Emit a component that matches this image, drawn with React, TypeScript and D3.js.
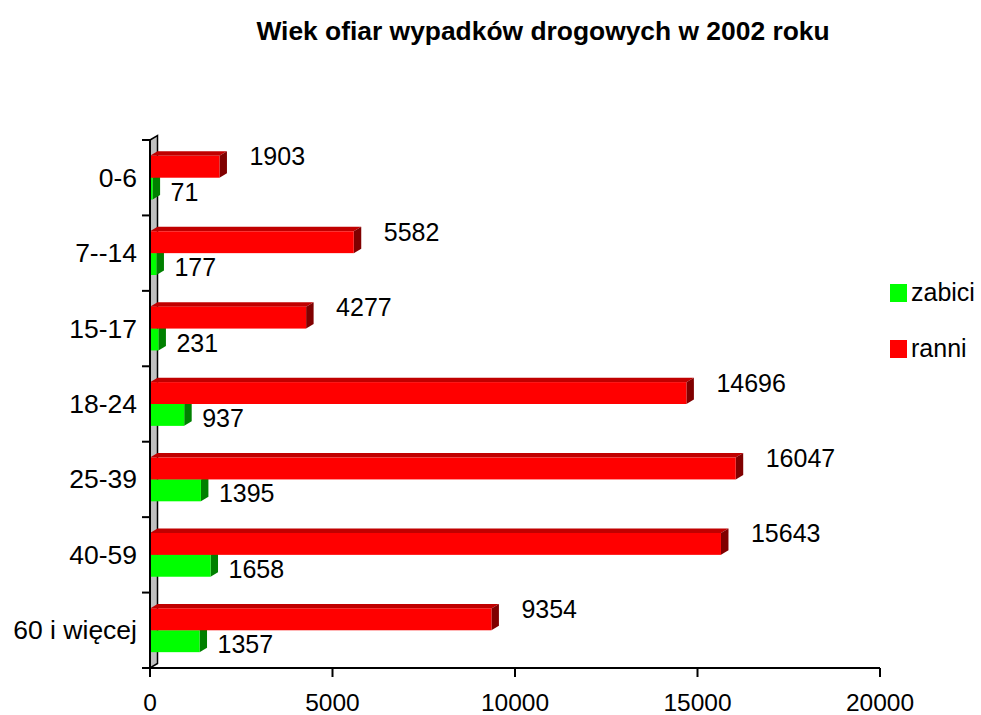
import { useEffect } from "react"
import * as d3 from "d3"

const categories = ["0-6", "7--14", "15-17", "18-24", "25-39", "40-59", "60 i więcej"]
const ranni = [1903, 5582, 4277, 14696, 16047, 15643, 9354]
const zabici = [71, 177, 231, 937, 1395, 1658, 1357]
const xTicks = [0, 5000, 10000, 15000, 20000]
const seriesNames = ["ranni", "zabici"]

const W = 981
const H = 715
const FONT = "'Liberation Sans', Arial, sans-serif"

// 3D depth offsets
const DX = 7.5
const DY = 4.5

const palette: Record<string, { front: string; top: string; side: string }> = {
  ranni: { front: "#ff0000", top: "#c00000", side: "#800000" },
  zabici: { front: "#00ff00", top: "#00c000", side: "#008000" },
}

const x = d3.scaleLinear().domain([0, 20000]).range([150, 880])
const y = d3.scaleBand<string>().domain(categories).range([140, 668]).paddingInner(0.42).paddingOuter(0.21)
const sub = d3.scaleBand<string>().domain(seriesNames).range([0, y.bandwidth()])

function Bar3D({ cat, series, value }: { cat: string; series: string; value: number }) {
  const x0 = x(0)
  const x1 = x(value)
  const top = (y(cat) ?? 0) + (sub(series) ?? 0)
  const bottom = top + sub.bandwidth()
  const c = palette[series]
  const pts = (p: number[][]) => p.map((d) => d.join(",")).join(" ")
  return (
    <g>
      <polygon points={pts([[x0, top], [x0 + DX, top - DY], [x1 + DX, top - DY], [x1, top]])} fill={c.top} />
      <polygon points={pts([[x1, top], [x1 + DX, top - DY], [x1 + DX, bottom - DY], [x1, bottom]])} fill={c.side} />
      <rect x={x0} y={top} width={x1 - x0} height={bottom - top} fill={c.front} />
    </g>
  )
}

export default function App() {
  useEffect(() => {
    document.body.style.margin = "0"
  }, [])

  const yTop = 140
  const yBottom = 668
  const boundaries = [...categories.map((d) => y(d)! - (y.step() * y.paddingInner()) / 2), yBottom]

  return (
    <svg width={W} height={H} style={{ display: "block", background: "#fff", fontFamily: FONT }}>
      {/* title */}
      <text x={543} y={40} textAnchor="middle" fontSize={26.4} fontWeight="bold" fill="#000">
        Wiek ofiar wypadków drogowych w 2002 roku
      </text>

      {/* wall */}
      <polygon
        points={`150,${yTop} ${150 + DX},${yTop - DY} ${150 + DX},${yBottom - DY} 150,${yBottom}`}
        fill="#c0c0c0"
        stroke="#000"
        strokeWidth={1.5}
      />

      {/* bars: green first so red covers its top face */}
      {categories.map((cat, i) => (
        <g key={cat}>
          <Bar3D cat={cat} series="zabici" value={zabici[i]} />
          <Bar3D cat={cat} series="ranni" value={ranni[i]} />
        </g>
      ))}

      {/* value labels */}
      {categories.map((cat, i) => {
        const rTop = (y(cat) ?? 0) + (sub("ranni") ?? 0)
        const gTop = (y(cat) ?? 0) + (sub("zabici") ?? 0)
        return (
          <g key={cat} fontSize={25} fill="#000">
            <text x={x(ranni[i]) + 30} y={rTop + 9.5}>
              {ranni[i]}
            </text>
            <text x={x(zabici[i]) + 18} y={gTop + sub.bandwidth() / 2 + 12}>
              {zabici[i]}
            </text>
          </g>
        )
      })}

      {/* category axis */}
      <line x1={150} x2={150} y1={yTop} y2={yBottom} stroke="#000" strokeWidth={2} />
      {boundaries.map((b, i) => (
        <line key={i} x1={142} x2={150} y1={b} y2={b} stroke="#000" strokeWidth={2} />
      ))}
      {categories.map((cat) => (
        <text
          key={cat}
          x={137}
          y={(y(cat) ?? 0) + y.bandwidth() / 2 + 9}
          textAnchor="end"
          fontSize={26.5}
          fill="#000"
        >
          {cat}
        </text>
      ))}

      {/* value axis */}
      <line x1={142} x2={x(20000)} y1={yBottom} y2={yBottom} stroke="#000" strokeWidth={2} />
      {xTicks.map((t) => (
        <g key={t}>
          <line x1={x(t)} x2={x(t)} y1={yBottom} y2={yBottom + 9} stroke="#000" strokeWidth={2} />
          <text x={x(t)} y={711} textAnchor="middle" fontSize={24.5} fill="#000">
            {t}
          </text>
        </g>
      ))}

      {/* legend */}
      {["zabici", "ranni"].map((s, i) => (
        <g key={s} transform={`translate(890,${284 + i * 56})`}>
          <rect width={17} height={18} fill={palette[s].front} />
          <text x={21} y={17} fontSize={25} fill="#000">
            {s}
          </text>
        </g>
      ))}
    </svg>
  )
}
